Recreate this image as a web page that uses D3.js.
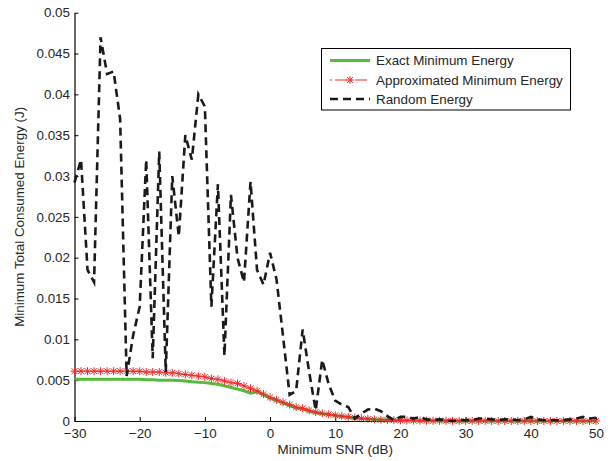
<!DOCTYPE html>
<html><head><meta charset="utf-8">
<script src="https://cdn.jsdelivr.net/npm/d3@7"></script>
<style>
body{margin:0;background:#fff;}
text{font-family:"Liberation Sans",Arial,Helvetica,sans-serif;}
</style></head><body>
<svg id="c" width="614" height="461"></svg>
<script>
const snr = d3.range(-30, 51, 1);
const exactEnergy = [
 0.0051,0.0051,0.0051,0.0051,0.0051,0.0051,0.0051,0.0051,0.0051,0.0051,
 0.0051,0.00505,0.00505,0.005,0.005,0.005,0.00495,0.0049,0.0048,0.00475,
 0.0047,0.0046,0.0045,0.0043,0.0041,0.0039,0.0037,0.0034,0.0036,0.0032,
 0.0028,0.0025,0.0022,0.0019,0.0016,0.0015,0.0012,0.001,0.0009,0.00078,
 0.00066,0.00056,0.00046,0.00037,0.0003,0.00024,0.00018,0.00014,0.00011,0.00008,
 0.00006,0.00005,0.00004,0.00003,0.00002,0.00002,0.00001,0.00001,0.00001,0.00001,
 0,0,0,0,0,0,0,0,0,0,0,0,0,0,0,0,0,0,0,0,0];
const approxEnergy = [
 0.0061,0.0061,0.0061,0.0061,0.0061,0.0061,0.0061,0.0061,0.0061,0.0061,
 0.0061,0.006,0.006,0.006,0.0059,0.0059,0.0058,0.0057,0.0056,0.0055,
 0.0054,0.0052,0.0051,0.0049,0.0047,0.0046,0.0043,0.004,0.0037,0.0033,
 0.0029,0.0026,0.0023,0.002,0.0017,0.00155,0.0013,0.0011,0.00095,0.00082,
 0.0007,0.0006,0.0005,0.0004,0.00032,0.00026,0.0002,0.00016,0.00013,0.0001,
 0.00008,0.00006,0.00005,0.00004,0.00003,0.00003,0.00002,0.00002,0.00002,0.00001,
 0.00001,0.00001,0.00001,0.00001,0,0,0,0,0,0,0,0,0,0,0,0,0,0,0,0,0];
const randomEnergy = [
 0.0292,0.032,0.0185,0.017,0.047,0.0425,0.0428,0.037,0.0055,0.0105,
 0.014,0.032,0.0077,0.033,0.006,0.030,0.0226,0.035,0.032,0.040,
 0.0385,0.014,0.029,0.008,0.0277,0.020,0.017,0.0293,0.0185,0.0167,
 0.0206,0.0173,0.0103,0.0032,0.0037,0.0112,0.006,0.0013,0.0075,0.0045,
 0.0025,0.002,0.0017,0.0003,0.0009,0.0014,0.0015,0.0012,0.0006,0.0001,
 0.0005,0.0005,0.0003,0.0005,0.0002,0.0001,0.0002,0.0001,0.0,0.0001,
 0.0001,0.0001,0.0003,0.0003,0.0002,0.0001,0.0002,0.0002,0.0001,0.0002,
 0.0005,0.0002,0.0001,0.0001,0.0001,0.0001,0.0002,0.0003,0.0005,0.0003,0.0004];
const xTicks = [-30,-20,-10,0,10,20,30,40,50];
const yTicks = [0,0.005,0.01,0.015,0.02,0.025,0.03,0.035,0.04,0.045,0.05];
const yTickLabels = ["0","0.005","0.01","0.015","0.02","0.025","0.03","0.035","0.04","0.045","0.05"];
const seriesNames = ["Exact Minimum Energy","Approximated Minimum Energy","Random Energy"];
const xTitle = "Minimum SNR (dB)";
const yTitle = "Minimum Total Consumed Energy (J)";

const svg = d3.select("#c");
const L = 74.5, R = 596, T = 12.7, B = 421;
const FS = "13.4px";
const x = d3.scaleLinear().domain([-30,50]).range([L,R]);
const y = d3.scaleLinear().domain([0,0.05]).range([B,T]);
const txtCol = "#262626";

// axes
const xa = svg.append("g").attr("transform",`translate(0,${B})`)
  .call(d3.axisBottom(x).tickValues(xTicks).tickSizeInner(-4).tickSizeOuter(0).tickPadding(7)
  .tickFormat(d => d < 0 ? "\u2212" + Math.abs(d) : d));
const ya = svg.append("g").attr("transform",`translate(${L},0)`)
  .call(d3.axisLeft(y).tickValues(yTicks).tickSizeInner(-4).tickSizeOuter(0).tickPadding(4.5)
  .tickFormat((d,i) => yTickLabels[i]));
[xa,ya].forEach(a => {
  a.select(".domain").attr("stroke","#000").attr("stroke-width",1.2);
  a.selectAll(".tick line").attr("stroke","#000");
  a.selectAll(".tick text").attr("fill",txtCol).style("font-size",FS).attr("font-family",null);
});

const line = d => d3.line().x((v,i)=>x(snr[i])).y(v=>y(v))(d);
const plot = svg.append("g");

plot.append("path").attr("d",line(exactEnergy)).attr("fill","none")
  .attr("stroke","#55bb3c").attr("stroke-width",3);
plot.append("path").attr("d",line(approxEnergy)).attr("fill","none")
  .attr("stroke","#ee2a2a").attr("stroke-width",1);
const star = (g, cx, cy, s) => {
  const h = s/2, d = h*0.72;
  g.append("path").attr("d",`M${cx-h},${cy}L${cx+h},${cy}M${cx},${cy-h}L${cx},${cy+h}M${cx-d},${cy-d}L${cx+d},${cy+d}M${cx-d},${cy+d}L${cx+d},${cy-d}`)
    .attr("stroke","#ee2a2a").attr("stroke-width",1).attr("fill","none");
};
const mk = plot.append("g");
approxEnergy.forEach((v,i)=>star(mk, x(snr[i]), y(v), 8));
plot.append("path").attr("d",line(randomEnergy)).attr("fill","none")
  .attr("stroke","#1a1a1a").attr("stroke-width",2.6).attr("stroke-dasharray","8,5");

// titles
svg.append("text").attr("x",(L+R)/2).attr("y",454).attr("text-anchor","middle")
  .attr("fill",txtCol).style("font-size",FS).text(xTitle);
svg.append("text").attr("transform",`translate(24,${(T+B)/2}) rotate(-90)`).attr("text-anchor","middle")
  .attr("fill",txtCol).style("font-size",FS).text(yTitle);

// legend
const lg = svg.append("g");
lg.append("rect").attr("x",321.5).attr("y",48.5).attr("width",249).attr("height",61.5)
  .attr("fill","#fff").attr("stroke","#000").attr("stroke-width",1);
const rows = [60.5, 80, 99];
const lx0 = 330, lx1 = 370;
lg.append("line").attr("x1",lx0).attr("x2",lx1).attr("y1",rows[0]).attr("y2",rows[0])
  .attr("stroke","#55bb3c").attr("stroke-width",3);
lg.append("line").attr("x1",lx0).attr("x2",lx1).attr("y1",rows[1]).attr("y2",rows[1])
  .attr("stroke","#ee2a2a").attr("stroke-width",1).attr("stroke-dasharray","2,3,12,3");
star(lg,(lx0+lx1)/2,rows[1],8);
lg.append("line").attr("x1",lx0).attr("x2",lx1).attr("y1",rows[2]).attr("y2",rows[2])
  .attr("stroke","#1a1a1a").attr("stroke-width",2.6).attr("stroke-dasharray","8,5");
seriesNames.forEach((n,i)=>lg.append("text").attr("x",376).attr("y",rows[i]).attr("dy","0.35em")
  .attr("fill",txtCol).style("font-size",FS).text(n));
</script></body></html>
